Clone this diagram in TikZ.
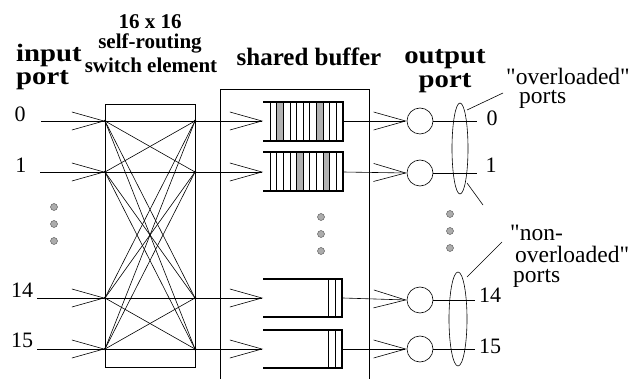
\documentclass[tikz,border=0pt]{standalone}
\usepackage{fontspec}
\setmainfont{Liberation Serif}[Ligatures=TeXOff]
\newfontfamily\widefont{Liberation Serif}[FakeStretch=1.15,Ligatures=TeXOff]
\usetikzlibrary{arrows.meta}
\tikzset{
  wire/.style={line width=0.6pt},
  barb/.style={wire,-{Straight Barb[length=32pt,width=18pt]}},
  hdr/.style={font=\fontsize{25}{26}\selectfont\bfseries,inner sep=0pt},
  hdrw/.style={font=\widefont\fontsize{25}{26}\selectfont\bfseries,inner sep=0pt},
  hdrs/.style={font=\fontsize{21}{22}\selectfont\bfseries,inner sep=0pt},
  num/.style={font=\fontsize{22}{23}\selectfont,inner sep=0pt},
  note/.style={font=\fontsize{23.5}{19}\selectfont,inner sep=0pt,anchor=base west,align=left},
  outport/.style={circle,draw,wire,minimum size=26pt,inner sep=0pt},
  vdot/.style={circle,fill=gray!65,draw=black!70,line width=0.4pt,minimum size=7pt,inner sep=0pt},
  xp/.style={circle,fill=black,minimum size=2.6pt,inner sep=0pt},
  qedge/.style={line width=1.7pt},
  qslot/.style={line width=0.8pt},
}
\begin{document}
\begin{tikzpicture}[x=1pt,y=-1pt]
\useasboundingbox (0,0) rectangle (637,379);
% headers
\node[hdrw,anchor=west] (hin1) at (16,55) {input};
\node[hdrw,anchor=west] (hin2) at (16,80) {port};
\node[hdrs] (hs1) at (150,22) {16 x 16};
\node[hdrs] (hs2) at (150,43) {self-routing};
\node[hdrs] (hs3) at (151,65) {switch element};
\node[hdr] (hbuf) at (309,57) {shared buffer};
\node[hdrw] (hout1) at (445,59) {output};
\node[hdrw] (hout2) at (445,83) {port};

% switch box
\draw[wire] (105,104) rectangle (195,367);
% crosspoints
\foreach \n/\y in {0/121,1/172,14/298,15/349}{
  \coordinate (L\n) at (105,\y);
  \coordinate (R\n) at (195,\y);
}
\foreach \a in {0,1,14,15}{
  \foreach \b in {0,1,14,15}{
    \draw[wire] (L\a) -- (R\b);
  }
}
\foreach \n in {0,1,14,15}{ \node[xp] at (L\n) {}; \node[xp] at (R\n) {}; }

% input labels and lines
\node[num] (in0) at (20,114) {0};
\node[num] (in1) at (21,165) {1};
\node[num] (in14) at (22,290) {14};
\node[num] (in15) at (22,340) {15};
\coordinate (s0) at (41,121);
\coordinate (s1) at (40,172);
\coordinate (s14) at (37,298);
\coordinate (s15) at (37,349);
\foreach \n in {0,1,14,15}{ \draw[barb] (s\n) -- (L\n); }
\foreach \y in {207,224,241}{ \node[vdot] at (54,\y) {}; }

% shared buffer box
\draw[wire] (220,379) -- (220,89) -- (369,89) -- (369,379);

% queues
\foreach \n/\y in {0/121,1/172,14/298,15/349}{
  \coordinate (Q\n) at (263,\y);
  \coordinate (QE\n) at (343,\y);
}
% full queues rows 0,1
\foreach \yt/\g/\h in {102/1/7,152/4/8}{
  \pgfmathsetmacro{\yb}{\yt+39}
  \foreach \k in {0,...,10}{
    \pgfmathsetmacro{\xa}{270+\k*6.636}
    \pgfmathsetmacro{\xb}{270+(\k+1)*6.636}
    \ifnum\k=\g \fill[gray!60] (\xa,\yt) rectangle (\xb,\yb); \fi
    \ifnum\k=\h \fill[gray!60] (\xa,\yt) rectangle (\xb,\yb); \fi
    \draw[qslot] (\xa,\yt) -- (\xa,\yb);
  }
  \draw[qedge] (263,\yt) -- (343,\yt) -- (343,\yb) -- (263,\yb);
}
% nearly empty queues rows 14,15
\foreach \yt in {279,330}{
  \pgfmathsetmacro{\yb}{\yt+38}
  \draw[qslot] (328,\yt) -- (328,\yb);
  \draw[qslot] (335,\yt) -- (335,\yb);
  \draw[qedge] (263,\yt) -- (342,\yt) -- (342,\yb) -- (263,\yb);
}
\foreach \n in {0,1,14,15}{ \draw[barb] (R\n) -- (Q\n); }
\foreach \y in {217,234,251}{ \node[vdot] at (321,\y) {}; }

% output ports
\node[outport] (o0) at (420,121) {};
\node[outport] (o1) at (420,173) {};
\node[outport] (o14) at (420,300) {};
\node[outport] (o15) at (420,349) {};
\foreach \n in {0,1,14,15}{ \draw[barb] (QE\n) -- (o\n.west); }
\coordinate (e0) at (477,121);
\coordinate (e1) at (477,173);
\coordinate (e14) at (475,300);
\coordinate (e15) at (475,349);
\foreach \n in {0,1,14,15}{ \draw[wire] (o\n.east) -- (e\n); }
\node[num] (on0) at (492,118) {0};
\node[num] (on1) at (491,165) {1};
\node[num] (on14) at (490,295) {14};
\node[num] (on15) at (490,346) {15};
\foreach \y in {214,231,248}{ \node[vdot] at (450,\y) {}; }

% ellipses and callouts
\draw[wire] (460,148.5) ellipse (8 and 45.5);
\draw[wire] (458,319) ellipse (9 and 47);
\coordinate (c1a) at (467,110); \coordinate (c1b) at (503,93);
\coordinate (c2a) at (467,183); \coordinate (c2b) at (483,205);
\coordinate (c3a) at (467,277); \coordinate (c3b) at (502,242);
\draw[wire] (c1a) -- (c1b);
\draw[wire] (c2a) -- (c2b);
\draw[wire] (c3a) -- (c3b);
\node[note] (t1) at (506,104) {"overloaded"\\\hspace{13pt}ports};
\node[note] (t3) at (510,283) {"non-\\[2.5pt]\hspace{5pt}overloaded"\\[1.5pt]\hspace{3pt}ports};
\end{tikzpicture}
\end{document}
